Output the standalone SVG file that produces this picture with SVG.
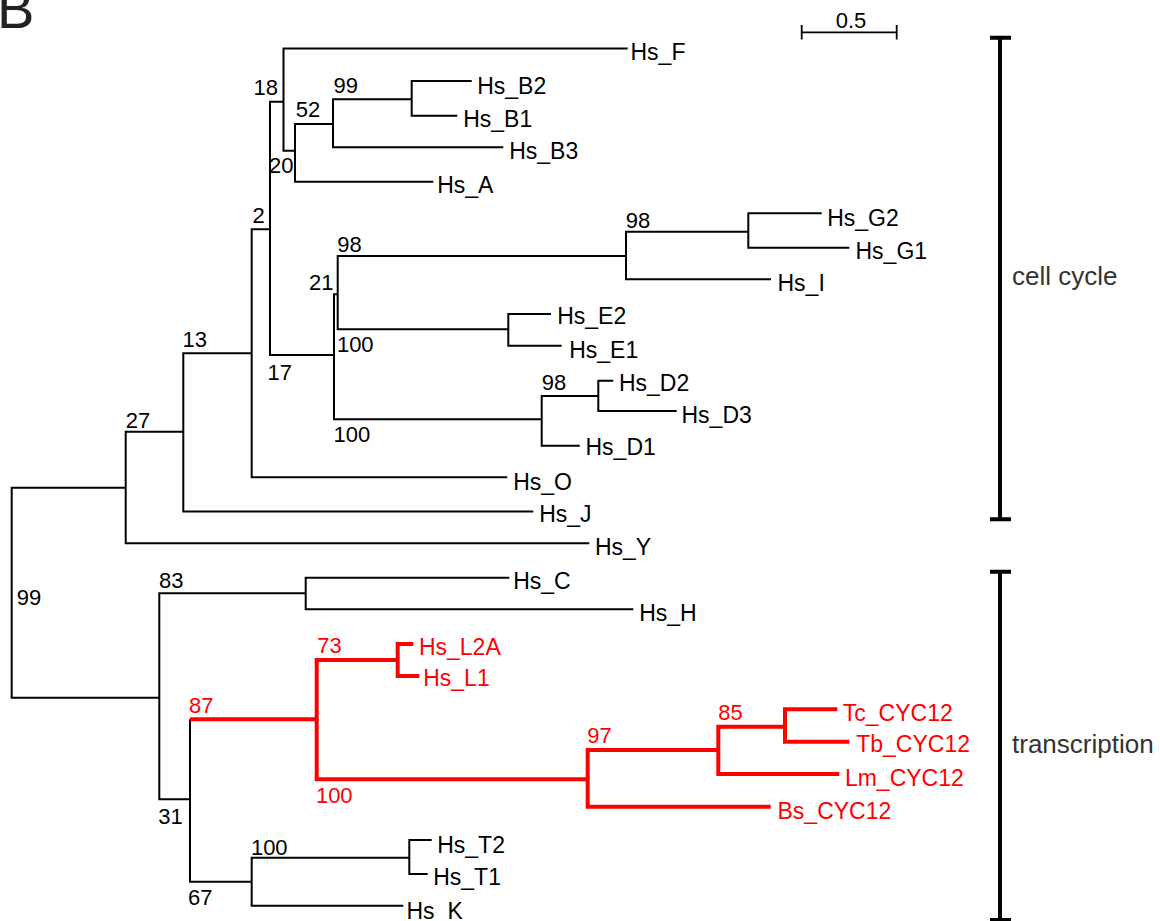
<svg xmlns="http://www.w3.org/2000/svg" width="1160" height="921" viewBox="0 0 1160 921">
<style>
text{font-family:"Liberation Sans",Arial,sans-serif}
.leaf{font-size:23px;fill:#000}
.bs{font-size:22px;fill:#000}
.red{fill:#ff0000}
.sec{font-size:26px;fill:#333}
.br{fill:none;stroke:#000;stroke-width:2;stroke-linejoin:miter}
.rbr{fill:none;stroke:#ff0000;stroke-width:4;stroke-linejoin:miter}
.bar{fill:none;stroke:#000;stroke-width:4}
.sb{fill:none;stroke:#000;stroke-width:1.8}
</style>
<rect width="1160" height="921" fill="#fff"/>
<text x="-3" y="28" style="font-size:56px;fill:#222">B</text>

<g id="connectors">
<path class="br" d="M125.7 487.7 H11.7 V697.7 H159.3"/>
<path class="br" d="M183.3 431.7 H125.7 V543.3 H589.3"/>
<path class="br" d="M251.7 353.3 H183.3 V511.5 H533.3"/>
<path class="br" d="M270 229.3 H251.7 V477.3 H507.3"/>
<path class="br" d="M283.5 101.7 H270 V355 H334"/>
<path class="br" d="M627.7 48.5 H283.5 V150.7 H295"/>
<path class="br" d="M333 124 H295 V181.7 H433.3"/>
<path class="br" d="M411.7 99.3 H333 V147.3 H503.3"/>
<path class="br" d="M471.7 81 H411.7 V115.7 H457.3"/>
<path class="br" d="M337.7 294.3 H334 V419.3 H541.7"/>
<path class="br" d="M626 256 H337.7 V329.3 H508.3"/>
<path class="br" d="M748.3 231.7 H626 V279.3 H771"/>
<path class="br" d="M821.7 213.3 H748.3 V247.7 H849.3"/>
<path class="br" d="M551 314 H508.3 V345.7 H561.7"/>
<path class="br" d="M598.3 396 H541.7 V445.7 H579.7"/>
<path class="br" d="M613.3 380.7 H598.3 V411 H676.7"/>
<path class="br" d="M305.7 593.3 H159.3 V799.3 H190"/>
<path class="br" d="M509.3 577.8 H305.7 V609.3 H633.3"/>
<path class="br" d="M190 719.3 V881.7 H251.7"/>
<path class="br" d="M409.3 857.7 H251.7 V905.7 H403.3"/>
<path class="br" d="M431.7 840 H409.3 V874 H427.7"/>
<path class="rbr" d="M190 719.3 H316.7"/>
<path class="rbr" d="M397.7 660 H316.7 V779.3 H587.7"/>
<path class="rbr" d="M413.3 644 H397.7 V676 H419.3"/>
<path class="rbr" d="M718.3 750 H587.7 V806.7 H770.7"/>
<path class="rbr" d="M785 726.7 H718.3 V774 H839.3"/>
<path class="rbr" d="M837.3 709.3 H785 V741.7 H849.3"/>
</g>

<g id="scale-bar">
<path class="sb" d="M801.7 32.3 H896.7 M801.7 25 V39.5 M896.7 25 V39.5"/>
<text class="bs" x="851" y="28.3" text-anchor="middle">0.5</text>
</g>

<g id="group-cell-cycle">
<path class="bar" d="M1000 37.7 V519.3 M990 37.7 H1011 M990 519.3 H1011"/>
<text class="sec" x="1012" y="285">cell cycle</text>
</g>
<g id="group-transcription">
<path class="bar" d="M1000 571.7 V921 M990 571.7 H1011 M990 920 H1011"/>
<text class="sec" x="1012" y="753">transcription</text>
</g>

<g id="leaf-Hs_F"><text class="leaf" x="630.5" y="60">Hs_F</text></g>
<g id="leaf-Hs_B2"><text class="leaf" x="477.2" y="93.8">Hs_B2</text></g>
<g id="leaf-Hs_B1"><text class="leaf" x="463.2" y="126.5">Hs_B1</text></g>
<g id="leaf-Hs_B3"><text class="leaf" x="509.2" y="159">Hs_B3</text></g>
<g id="leaf-Hs_A"><text class="leaf" x="437.2" y="193">Hs_A</text></g>
<g id="leaf-Hs_G2"><text class="leaf" x="827.2" y="225.5">Hs_G2</text></g>
<g id="leaf-Hs_G1"><text class="leaf" x="855.5" y="258.5">Hs_G1</text></g>
<g id="leaf-Hs_I"><text class="leaf" x="777.5" y="291">Hs_I</text></g>
<g id="leaf-Hs_E2"><text class="leaf" x="557.2" y="324">Hs_E2</text></g>
<g id="leaf-Hs_E1"><text class="leaf" x="569.2" y="358">Hs_E1</text></g>
<g id="leaf-Hs_D2"><text class="leaf" x="618.9" y="390.5">Hs_D2</text></g>
<g id="leaf-Hs_D3"><text class="leaf" x="681.5" y="422.5">Hs_D3</text></g>
<g id="leaf-Hs_D1"><text class="leaf" x="585.5" y="454.5">Hs_D1</text></g>
<g id="leaf-Hs_O"><text class="leaf" x="513.2" y="489.5">Hs_O</text></g>
<g id="leaf-Hs_J"><text class="leaf" x="539.2" y="522">Hs_J</text></g>
<g id="leaf-Hs_Y"><text class="leaf" x="594.9" y="554.5">Hs_Y</text></g>
<g id="leaf-Hs_C"><text class="leaf" x="513.2" y="588.5">Hs_C</text></g>
<g id="leaf-Hs_H"><text class="leaf" x="639.2" y="620.5">Hs_H</text></g>
<g id="leaf-Hs_L2A"><text class="leaf red" x="418.9" y="654.5">Hs_L2A</text></g>
<g id="leaf-Hs_L1"><text class="leaf red" x="423.2" y="686">Hs_L1</text></g>
<g id="leaf-Tc_CYC12"><text class="leaf red" x="842.8" y="720.5">Tc_CYC12</text></g>
<g id="leaf-Tb_CYC12"><text class="leaf red" x="856.2" y="752">Tb_CYC12</text></g>
<g id="leaf-Lm_CYC12"><text class="leaf red" x="844.9" y="786">Lm_CYC12</text></g>
<g id="leaf-Bs_CYC12"><text class="leaf red" x="777.5" y="818.5">Bs_CYC12</text></g>
<g id="leaf-Hs_T2"><text class="leaf" x="437.2" y="852.5">Hs_T2</text></g>
<g id="leaf-Hs_T1"><text class="leaf" x="433.2" y="884.5">Hs_T1</text></g>
<g id="leaf-Hs_K"><text class="leaf" x="406.5" y="918.5">Hs_K</text></g>

<g id="support-18"><text class="bs" x="253.6" y="95">18</text></g>
<g id="support-99a"><text class="bs" x="333.4" y="93.3">99</text></g>
<g id="support-52"><text class="bs" x="295.7" y="117.3">52</text></g>
<g id="support-20"><text class="bs" x="269" y="172.7">20</text></g>
<g id="support-2"><text class="bs" x="252.5" y="223.3">2</text></g>
<g id="support-98a"><text class="bs" x="625.7" y="228.3">98</text></g>
<g id="support-98b"><text class="bs" x="337.3" y="251.7">98</text></g>
<g id="support-21"><text class="bs" x="309" y="290">21</text></g>
<g id="support-100a"><text class="bs" x="336.9" y="351.7">100</text></g>
<g id="support-13"><text class="bs" x="182.6" y="346.7">13</text></g>
<g id="support-17"><text class="bs" x="267.6" y="380">17</text></g>
<g id="support-98c"><text class="bs" x="541.7" y="390">98</text></g>
<g id="support-100b"><text class="bs" x="333.6" y="442">100</text></g>
<g id="support-27"><text class="bs" x="125.7" y="428.3">27</text></g>
<g id="support-99b"><text class="bs" x="16.7" y="605">99</text></g>
<g id="support-83"><text class="bs" x="159" y="588.3">83</text></g>
<g id="support-31"><text class="bs" x="158.3" y="824">31</text></g>
<g id="support-87"><text class="bs red" x="189" y="713.3">87</text></g>
<g id="support-73"><text class="bs red" x="317.3" y="653.3">73</text></g>
<g id="support-100c"><text class="bs red" x="315.9" y="802.7">100</text></g>
<g id="support-97"><text class="bs red" x="587.3" y="743.3">97</text></g>
<g id="support-85"><text class="bs red" x="718.3" y="720">85</text></g>
<g id="support-100d"><text class="bs" x="250.9" y="855">100</text></g>
<g id="support-67"><text class="bs" x="188" y="905">67</text></g>
</svg>
